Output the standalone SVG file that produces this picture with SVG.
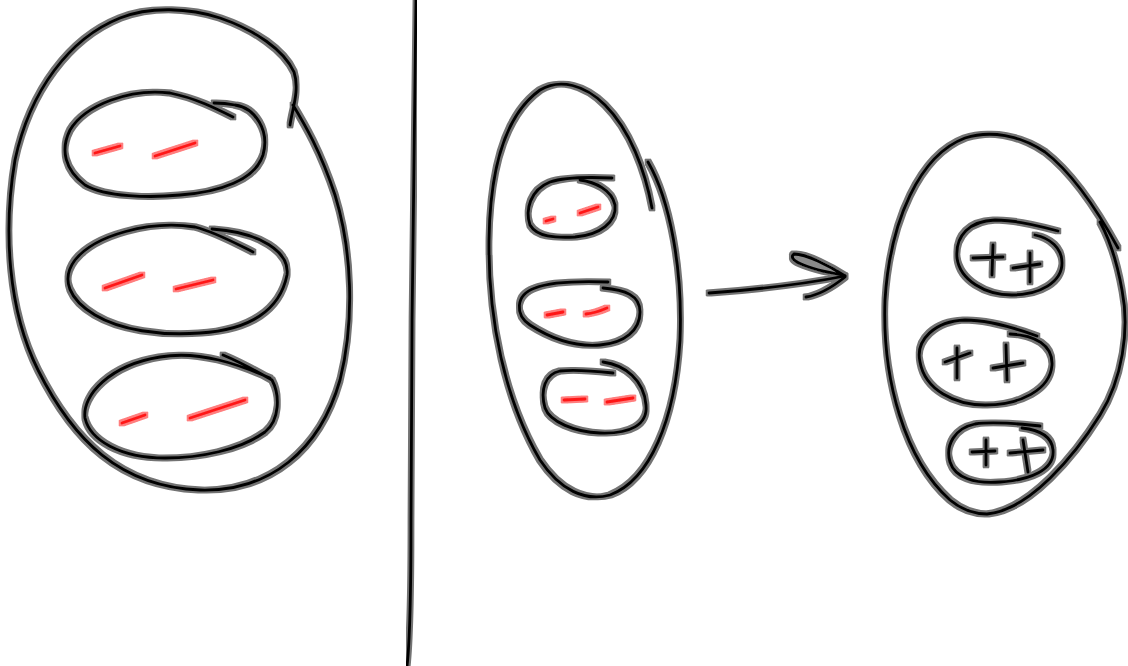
<svg xmlns="http://www.w3.org/2000/svg" width="1128" height="666" viewBox="0 0 1128 666">
  <style>
    .s { fill: none; stroke-linecap: round; stroke-linejoin: round; stroke-width: 2.8; }
    .k { stroke: #000; }
    .r { stroke: #ff1414; }
    .barb { fill: #8a8a8a; }
    .sketch { filter: url(#marker-halo); }
  </style>
  <defs>
    <!-- soft felt-tip halo around every stroke -->
    <filter id="marker-halo" x="-10%" y="-10%" width="120%" height="120%">
      <feMorphology in="SourceGraphic" operator="dilate" radius="2" result="wide"/>
      <feGaussianBlur in="wide" stdDeviation="0.7" result="soft"/>
      <feComponentTransfer in="soft" result="halo">
        <feFuncA type="linear" slope="0.55"/>
      </feComponentTransfer>
      <feMerge>
        <feMergeNode in="halo"/>
        <feMergeNode in="SourceGraphic"/>
      </feMerge>
    </filter>
  </defs>
  <rect width="1128" height="666" fill="#fff"/>

  <!-- divider -->
  <g id="divider" class="sketch">
    <path class="s k" d="M416,0 C414,150 411,350 411,520 C411,600 410,640 407,666"/>
  </g>

  <!-- left: large cell holding three inner cells -->
  <g id="left-outer" class="sketch">
    <path class="s k" d="M290,125 C292,110 300,90 294,72 C284,50 255,30 220,18 C190,8 150,6 120,18 C70,38 30,90 15,160 C3,230 8,310 38,370 C73,440 120,487 200,490 C270,492 320,450 340,380 C355,320 352,250 335,195 C320,150 305,125 293,105"/>
  </g>
  <g id="left-cell-1" class="sketch">
    <path class="s k" d="M233,117 C215,108 195,98 170,93 C130,88 85,105 70,130 C60,150 65,170 85,185 C105,197 150,198 180,195 C220,192 255,180 263,155 C270,130 255,108 235,105 C225,103 218,103 214,103"/>
    <path class="s r" d="M95,153 L120,146 M155,156 L195,143"/>
  </g>
  <g id="left-cell-2" class="sketch">
    <path class="s k" d="M253,252 C235,243 215,232 195,227 C150,220 95,235 75,260 C60,280 70,300 95,315 C120,330 160,336 200,333 C250,330 280,310 287,275 C290,252 260,232 212,229"/>
    <path class="s r" d="M105,288 L142,275 M176,289 L213,280"/>
  </g>
  <g id="left-cell-3" class="sketch">
    <path class="s k" d="M223,355 C240,362 258,372 272,380 C280,395 280,420 265,432 C240,450 200,458 165,458 C120,458 90,440 85,418 C82,395 110,365 160,357 C200,350 240,365 270,378"/>
    <path class="s r" d="M122,423 L145,415 M190,418 L245,400"/>
  </g>

  <!-- middle: narrow cell holding three inner cells -->
  <g id="mid-outer" class="sketch">
    <path class="s k" d="M652,208 C645,170 630,130 605,105 C585,85 560,78 540,90 C505,115 490,170 489,240 C488,320 505,400 540,460 C560,490 585,502 610,495 C650,480 675,420 680,340 C683,270 670,200 648,162"/>
  </g>
  <g id="mid-cell-1" class="sketch">
    <path class="s k" d="M612,178 C590,177 565,177 550,182 C530,190 525,210 530,225 C537,237 555,238 575,237 C600,235 617,222 615,205 C612,190 595,182 580,180"/>
    <path class="s r" d="M546,221 L553,219 M580,213 L598,207"/>
  </g>
  <g id="mid-cell-2" class="sketch">
    <path class="s k" d="M608,282 C580,281 550,282 535,288 C515,295 515,315 530,325 C550,338 575,347 600,345 C625,343 640,330 640,312 C640,295 625,290 603,288"/>
    <path class="s r" d="M547,315 L563,312 M586,314 C595,313 600,311 607,308"/>
  </g>
  <g id="mid-cell-3" class="sketch">
    <path class="s k" d="M613,373 C595,371 575,369 560,371 C545,374 540,390 545,408 C550,422 575,432 600,433 C630,434 648,425 646,405 C644,380 625,365 603,362"/>
    <path class="s r" d="M564,400 L585,399 M607,402 L633,398"/>
  </g>

  <!-- transition arrow -->
  <g id="connectors" class="sketch">
    <path class="s k" d="M709,293 C750,290 800,285 845,276"/>
    <path class="s k barb" d="M845,276 C830,266 806,254 794,254 C787,259 802,268 843,275"/>
    <path class="s k" d="M845,277 C835,285 820,295 806,297"/>
  </g>

  <!-- right: cell holding three inner cells with plus marks -->
  <g id="right-outer" class="sketch">
    <path class="s k" d="M1118,248 C1100,215 1075,175 1045,152 C1020,135 990,130 965,138 C920,155 890,220 885,300 C882,380 905,460 950,500 C962,510 975,514 987,514 C1030,510 1075,455 1100,415 C1122,380 1130,330 1122,290 C1117,262 1110,240 1100,222"/>
  </g>
  <g id="right-cell-1" class="sketch">
    <path class="s k" d="M1058,231 C1040,226 1015,220 995,220 C970,221 955,235 957,258 C960,280 985,295 1012,295 C1040,295 1062,282 1062,263 C1062,248 1050,238 1035,235"/>
    <path class="s k" d="M973,258 L1003,257 M993,245 L992,275 M1013,268 L1040,264 M1030,253 L1030,282"/>
  </g>
  <g id="right-cell-2" class="sketch">
    <path class="s k" d="M1037,336 C1015,328 990,320 965,320 C935,321 915,340 920,362 C925,390 955,405 985,405 C1020,405 1050,390 1052,365 C1053,345 1035,335 1010,334"/>
    <path class="s k" d="M945,362 L970,353 M957,348 L957,378 M993,368 L1023,363 M1006,345 L1007,380"/>
  </g>
  <g id="right-cell-3" class="sketch">
    <path class="s k" d="M1040,426 C1020,424 995,421 975,424 C955,428 945,445 950,462 C955,478 975,484 1000,482 C1030,480 1055,470 1053,450 C1052,437 1040,430 1022,428"/>
    <path class="s k" d="M972,452 L995,451 M986,440 L986,465 M1010,453 L1043,450 M1023,440 L1028,472"/>
  </g>
</svg>
